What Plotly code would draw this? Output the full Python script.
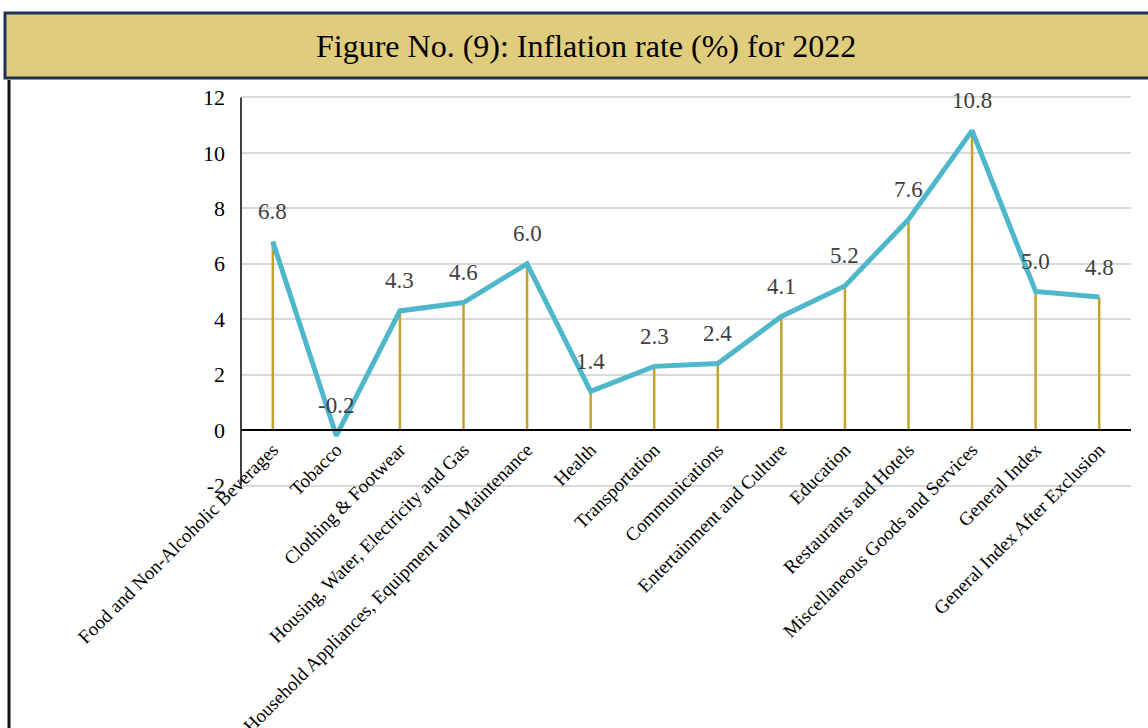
import plotly.graph_objects as go

# Inflation rate (%) by expenditure group, 2022
categories = [
    "Food and Non-Alcoholic Beverages",
    "Tobacco",
    "Clothing & Footwear",
    "Housing, Water, Electricity and Gas",
    "Household Appliances, Equipment and Maintenance",
    "Health",
    "Transportation",
    "Communications",
    "Entertainment and Culture",
    "Education",
    "Restaurants and Hotels",
    "Miscellaneous Goods and Services",
    "General Index",
    "General Index After Exclusion",
]
inflation = [6.8, -0.2, 4.3, 4.6, 6.0, 1.4, 2.3, 2.4, 4.1, 5.2, 7.6, 10.8, 5.0, 4.8]
y_ticks = [-2, 0, 2, 4, 6, 8, 10, 12]

SERIF = "Liberation Serif"
LINE_COLOR = "#4FB7CB"
STEM_COLOR = "#C4A22E"
BANNER_FILL = "#DFCD7D"
BANNER_EDGE = "#1E3250"

# y range padded slightly so the 12 and -2 gridlines stay visible
Y_LO, Y_HI = -2.05, 12.05

# page geometry (pixels) used to place decorations in paper coordinates
FIG_W, FIG_H = 1148, 728
PLOT_L, PLOT_R, PLOT_T, PLOT_B = 241, 1131, 96, 487
PW, PH = PLOT_R - PLOT_L, PLOT_B - PLOT_T


def px(x):
    return (x - PLOT_L) / PW


def py(y):
    return (PLOT_B - y) / PH


fig = go.Figure()

# vertical drop lines from zero to each value
stem_x, stem_y = [], []
for c, v in zip(categories, inflation):
    stem_x += [c, c, None]
    stem_y += [0, v, None]
fig.add_trace(go.Scatter(
    x=stem_x, y=stem_y, mode="lines",
    line=dict(color=STEM_COLOR, width=2.5),
    hoverinfo="skip", showlegend=False,
))

# main inflation line
fig.add_trace(go.Scatter(
    x=categories, y=inflation, mode="lines",
    line=dict(color=LINE_COLOR, width=5),
    showlegend=False,
))

# value labels above each point
for c, v in zip(categories, inflation):
    fig.add_annotation(
        x=c, y=v, text=f"{v:.1f}", showarrow=False,
        yshift=30, xanchor="center", yanchor="middle",
        font=dict(family=SERIF, size=23, color="#404040"),
    )

# title banner
fig.add_shape(
    type="rect", xref="paper", yref="paper",
    x0=px(5), x1=px(1160), y0=py(78), y1=py(13),
    fillcolor=BANNER_FILL, line=dict(color=BANNER_EDGE, width=3),
    layer="above",
)
fig.add_annotation(
    xref="paper", yref="paper", x=px(586), y=py(46),
    text="Figure No. (9): Inflation rate (%) for 2022", showarrow=False,
    xanchor="center", yanchor="middle",
    font=dict(family=SERIF, size=32, color="#000000"),
)
# left frame edge below the banner
fig.add_shape(
    type="line", xref="paper", yref="paper",
    x0=px(9), x1=px(9), y0=py(80), y1=py(740),
    line=dict(color="#111111", width=3),
)

zero_pos = (0 - Y_LO) / (Y_HI - Y_LO)

fig.update_layout(
    width=FIG_W, height=FIG_H,
    margin=dict(l=PLOT_L, r=FIG_W - PLOT_R, t=PLOT_T, b=FIG_H - PLOT_B, pad=0,
                autoexpand=False),
    paper_bgcolor="white", plot_bgcolor="white",
    font=dict(family=SERIF, color="#000000"),
    xaxis=dict(
        type="category", categoryorder="array", categoryarray=categories,
        range=[-0.5, len(categories) - 0.5],
        anchor="free", position=zero_pos, automargin=False,
        showline=True, linecolor="#000000", linewidth=2,
        showgrid=False, ticks="", tickangle=-45,
        tickfont=dict(family=SERIF, size=19, color="#000000"),
        zeroline=False,
    ),
    yaxis=dict(
        range=[Y_LO, Y_HI], tickvals=y_ticks,
        ticktext=[str(t) for t in y_ticks], automargin=False,
        showline=False,
        showgrid=True, gridcolor="#D9D9D9", gridwidth=1.5,
        zeroline=False, ticks="", ticklabelstandoff=15,
        tickfont=dict(family=SERIF, size=22, color="#000000"),
    ),
)

# y axis line from the -2 gridline up to 12
fig.add_shape(
    type="line", xref="paper", yref="y",
    x0=0, x1=0, y0=-2, y1=12,
    line=dict(color="#000000", width=1.5),
)

fig.write_html("out.html")
